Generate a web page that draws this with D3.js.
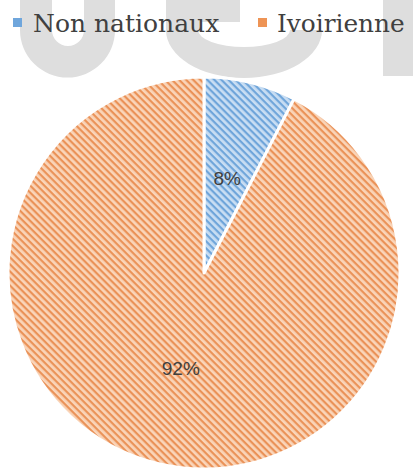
<!DOCTYPE html>
<html>
<head>
<meta charset="utf-8">
<script src="https://cdn.jsdelivr.net/npm/d3@7"></script>
<style>
  html, body { margin: 0; padding: 0; background: #fff; }
  svg { display: block; }
  .legtxt { font-family: "DejaVu Serif", "Liberation Serif", Tinos, "Noto Serif", Times, serif; }
  .lbl { font-family: "Liberation Sans", Arial, sans-serif; }
</style>
</head>
<body>
<svg id="chart" width="413" height="471"></svg>
<script>
const categories = ["Non nationaux", "Ivoirienne"];
const values = [7.6, 92.4];
const labels = ["8%", "92%"];

const W = 413, H = 471;
const cx = 204, cy = 273, R = 196;
const baseColors = ["#c9def3", "#fad5b9"];
const stripeColors = ["#6fa5da", "#ea9258"];
const legColors = ["#6fa6dc", "#ee9455"];

const svg = d3.select("#chart");
const defs = svg.append("defs");

categories.forEach((c, i) => {
  const p = defs.append("pattern")
    .attr("id", "pat" + i)
    .attr("patternUnits", "userSpaceOnUse")
    .attr("width", 5).attr("height", 5)
    .attr("patternTransform", "rotate(45)");
  p.append("rect").attr("width", 5).attr("height", 5).attr("fill", baseColors[i]);
  p.append("rect").attr("x", 0).attr("y", 0).attr("width", 5).attr("height", 2.2)
    .attr("fill", stripeColors[i]);
});

// watermark (faint grey letters behind the chart)
const wm = svg.append("g").attr("fill", "#dedede");
wm.append("path").attr("d",
  "M20,0 L52,0 L52,30 A16,16 0 0 0 84,30 L84,0 L115,0 L115,30 A47.5,47.5 0 0 1 20,30 Z");
wm.append("path").attr("d",
  "M166,30 A78,48 0 0 0 322,30 L290,30 A46,17 0 0 1 198,30 Z");
wm.append("path").attr("d", "M166,0 L240,0 L240,22 L200,22 L200,30 L166,30 Z");
wm.append("rect").attr("x", 383).attr("y", 0).attr("width", 30).attr("height", 76);

// legend: fit each label into its space by choosing the font size
const legX = [13, 258], txtX = [33, 277], txtW = [187, 128];
const leg = svg.append("g");
categories.forEach((c, i) => {
  leg.append("rect").attr("x", legX[i]).attr("y", 18).attr("width", 9).attr("height", 9)
    .attr("fill", legColors[i]);
  const t = leg.append("text").attr("class", "legtxt").attr("x", txtX[i]).attr("y", 32)
    .attr("font-size", 28).attr("fill", "#404040")
    .text(c);
  const w = t.node().getComputedTextLength();
  if (w > txtW[i]) t.attr("font-size", Math.floor(28 * txtW[i] / w * 10) / 10);
});

// pie
const pie = d3.pie().sort(null).value(d => d);
const arcs = pie(values);
const arc = d3.arc().innerRadius(0).outerRadius(R);
const g = svg.append("g").attr("transform", `translate(${cx},${cy})`);
g.selectAll("path.slice").data(arcs).enter().append("path")
  .attr("class", "slice")
  .attr("d", arc)
  .attr("fill", (d, i) => "url(#pat" + i + ")")
  .attr("stroke", "#fff").attr("stroke-width", 3).attr("stroke-linejoin", "round");

g.selectAll("text.lbl").data(arcs).enter().append("text")
  .attr("class", "lbl")
  .attr("transform", d => { const c = arc.centroid(d); return `translate(${c[0]},${c[1] + 7})`; })
  .attr("text-anchor", "middle")
  .attr("font-size", 19).attr("fill", "#404040")
  .text((d, i) => labels[i]);
</script>
</body>
</html>
